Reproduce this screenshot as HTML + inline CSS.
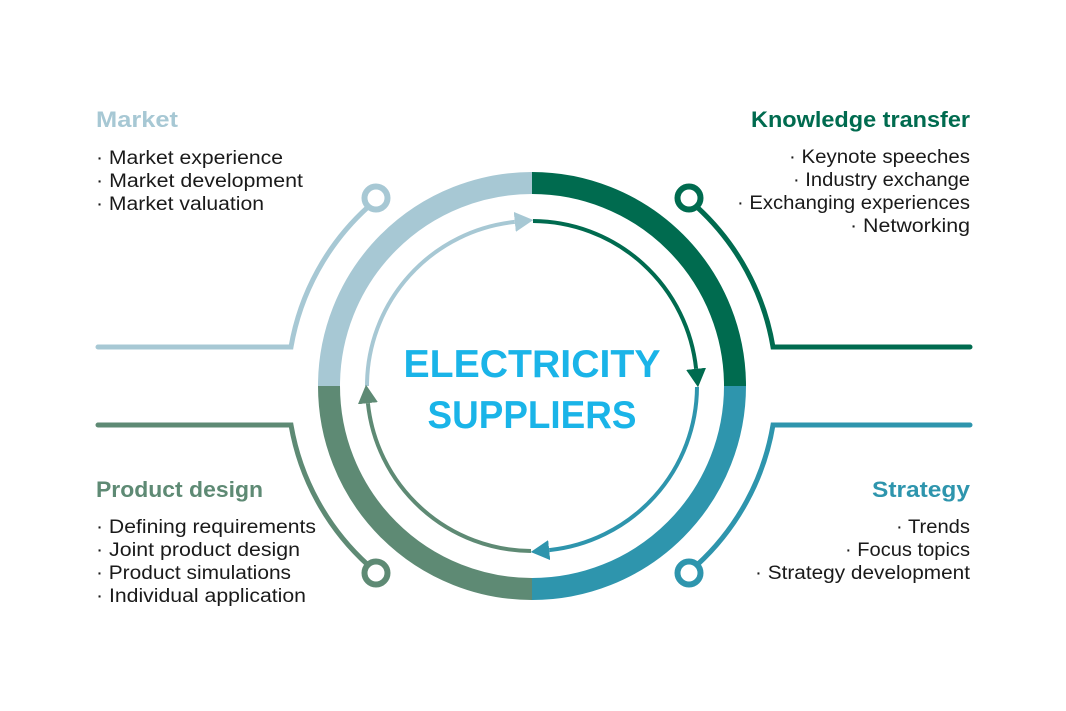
<!DOCTYPE html>
<html><head><meta charset="utf-8"><style>
html,body{margin:0;padding:0;background:#fff;}
svg{display:block;}
text{font-family:"Liberation Sans",sans-serif;}
.h{font-size:22px;font-weight:bold;}
.i{font-size:19px;fill:#1a1a1a;}
</style></head><body>
<svg width="1066" height="711" viewBox="0 0 1066 711" xmlns="http://www.w3.org/2000/svg">
<defs>
<marker id="mb" markerUnits="userSpaceOnUse" markerWidth="20" markerHeight="20" refX="0" refY="7" orient="auto" viewBox="0 0 14 14"><path d="M0,0 L13,7 L0,14 z" fill="#a7c8d4"/></marker>
<marker id="mg" markerUnits="userSpaceOnUse" markerWidth="20" markerHeight="20" refX="0" refY="7" orient="auto" viewBox="0 0 14 14"><path d="M0,0 L13,7 L0,14 z" fill="#006b4f"/></marker>
<marker id="mt" markerUnits="userSpaceOnUse" markerWidth="20" markerHeight="20" refX="0" refY="7" orient="auto" viewBox="0 0 14 14"><path d="M0,0 L13,7 L0,14 z" fill="#2e95ad"/></marker>
<marker id="mp" markerUnits="userSpaceOnUse" markerWidth="20" markerHeight="20" refX="0" refY="7" orient="auto" viewBox="0 0 14 14"><path d="M0,0 L13,7 L0,14 z" fill="#5e8a74"/></marker>
</defs>
<g fill="none" stroke-width="22">
<path d="M329,386 A203,203 0 0 1 532,183" stroke="#a7c8d4"/>
<path d="M532,183 A203,203 0 0 1 735,386" stroke="#006b4f"/>
<path d="M735,386 A203,203 0 0 1 532,589" stroke="#2e95ad"/>
<path d="M532,589 A203,203 0 0 1 329,386" stroke="#5e8a74"/>
</g>
<g fill="none" stroke-width="4">
<path d="M367,386 A165,165 0 0 1 514.8,221.9" stroke="#a7c8d4" marker-end="url(#mb)"/>
<path d="M533,221 A165,165 0 0 1 696.1,368.8" stroke="#006b4f" marker-end="url(#mg)"/>
<path d="M697,387 A165,165 0 0 1 549.2,550.1" stroke="#2e95ad" marker-end="url(#mt)"/>
<path d="M531,551 A165,165 0 0 1 367.9,403.2" stroke="#5e8a74" marker-end="url(#mp)"/>
</g>
<g fill="none" stroke-width="5" stroke-linecap="round">
<path d="M98,347 L291,347 A245,245 0 0 1 368,207" stroke="#a7c8d4"/>
<path d="M970,347 L773,347 A245,245 0 0 0 697,207" stroke="#006b4f"/>
<path d="M970,425 L773,425 A245,245 0 0 1 697,565" stroke="#2e95ad"/>
<path d="M98,425 L291,425 A245,245 0 0 0 368,565" stroke="#5e8a74"/>
</g>
<g fill="#fff" stroke-width="6">
<circle cx="376" cy="198" r="11.5" stroke="#a7c8d4"/>
<circle cx="689" cy="198" r="11.5" stroke="#006b4f"/>
<circle cx="689" cy="573" r="11.5" stroke="#2e95ad"/>
<circle cx="376" cy="573" r="11.5" stroke="#5e8a74"/>
</g>
<text x="532" y="377" text-anchor="middle" font-size="39" font-weight="bold" fill="#1ab4e8" textLength="257" lengthAdjust="spacingAndGlyphs">ELECTRICITY</text>
<text x="532" y="428" text-anchor="middle" font-size="39" font-weight="bold" fill="#1ab4e8" textLength="209" lengthAdjust="spacingAndGlyphs">SUPPLIERS</text>
<g lengthAdjust="spacingAndGlyphs">
<text class="h" x="96" y="127" fill="#a7c8d4" textLength="82" lengthAdjust="spacingAndGlyphs">Market</text>
<text class="i" x="96" y="164" textLength="187" lengthAdjust="spacingAndGlyphs">· Market experience</text>
<text class="i" x="96" y="187" textLength="207" lengthAdjust="spacingAndGlyphs">· Market development</text>
<text class="i" x="96" y="210" textLength="168" lengthAdjust="spacingAndGlyphs">· Market valuation</text>

<text class="h" x="751" y="127" fill="#006b4f" textLength="219" lengthAdjust="spacingAndGlyphs">Knowledge transfer</text>
<text class="i" x="789" y="163" textLength="181" lengthAdjust="spacingAndGlyphs">· Keynote speeches</text>
<text class="i" x="793" y="186" textLength="177" lengthAdjust="spacingAndGlyphs">· Industry exchange</text>
<text class="i" x="737" y="209" textLength="233" lengthAdjust="spacingAndGlyphs">· Exchanging experiences</text>
<text class="i" x="850" y="232" textLength="120" lengthAdjust="spacingAndGlyphs">· Networking</text>

<text class="h" x="96" y="497" fill="#5e8a74" textLength="167" lengthAdjust="spacingAndGlyphs">Product design</text>
<text class="i" x="96" y="533" textLength="220" lengthAdjust="spacingAndGlyphs">· Defining requirements</text>
<text class="i" x="96" y="556" textLength="204" lengthAdjust="spacingAndGlyphs">· Joint product design</text>
<text class="i" x="96" y="579" textLength="195" lengthAdjust="spacingAndGlyphs">· Product simulations</text>
<text class="i" x="96" y="602" textLength="210" lengthAdjust="spacingAndGlyphs">· Individual application</text>

<text class="h" x="872" y="497" fill="#2e95ad" textLength="98" lengthAdjust="spacingAndGlyphs">Strategy</text>
<text class="i" x="896" y="533" textLength="74" lengthAdjust="spacingAndGlyphs">· Trends</text>
<text class="i" x="845" y="556" textLength="125" lengthAdjust="spacingAndGlyphs">· Focus topics</text>
<text class="i" x="755" y="579" textLength="215" lengthAdjust="spacingAndGlyphs">· Strategy development</text>
</g>
</svg>
</body></html>
